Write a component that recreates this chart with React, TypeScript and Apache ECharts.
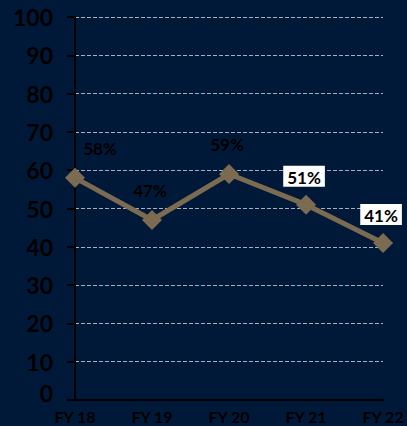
import React, { useEffect, useRef } from "react";
import * as echarts from "echarts";

const categories = ["FY 18", "FY 19", "FY 20", "FY 21", "FY 22"];
const values = [58, 47, 59, 51, 41];
const boxedLabels = [false, false, false, true, true];

export default function App() {
  const ref = useRef<HTMLDivElement>(null);
  useEffect(() => {
    const chart = echarts.init(ref.current!, null, { renderer: "svg" });
    const font = "Lato, 'Open Sans', sans-serif";
    chart.setOption({
      animation: false,
      backgroundColor: "#011939",
      grid: { left: 75, right: 21, top: 17, bottom: 26, containLabel: false },
      xAxis: {
        type: "category",
        data: categories,
        boundaryGap: false,
        axisLine: { show: true, lineStyle: { color: "#000", width: 2 } },
        axisTick: { show: false },
        axisLabel: {
          color: "#000",
          fontWeight: "bold",
          fontSize: 16,
          fontFamily: font,
          margin: 8,
        },
        splitLine: { show: false },
      },
      yAxis: {
        type: "value",
        min: 0,
        max: 100,
        interval: 10,
        axisLine: { show: true, lineStyle: { color: "#000", width: 2 } },
        axisTick: { show: true, length: 8, lineStyle: { color: "#000", width: 2 } },
        axisLabel: {
          color: "#000",
          fontWeight: "bold",
          fontSize: 23,
          fontFamily: font,
          margin: 22,
          formatter: (v: number) => (v === 0 ? "{z|0}" : String(v)),
          rich: {
            z: {
              color: "#000",
              fontWeight: "bold",
              fontSize: 23,
              fontFamily: font,
              padding: [0, 0, 14, 0],
            },
          },
        },
        splitLine: { show: true, lineStyle: { color: "#a8b0bd", type: "dashed", width: 1 } },
      },
      series: [
        {
          type: "line",
          data: values.map((v, i) => ({
            value: v,
            label: boxedLabels[i]
              ? {
                  backgroundColor: "#fff",
                  padding: [3, 4, 1, 4],
                  offset: [-2, 2],
                }
              : i === 0
              ? { offset: [25, -1] }
              : { offset: [-2, -1] },
          })),
          symbol: "diamond",
          symbolSize: 20,
          lineStyle: { color: "#7b6b50", width: 5 },
          itemStyle: { color: "#7b6b50" },
          label: {
            show: true,
            position: "top",
            distance: 10,
            formatter: (p: any) => p.value + "%",
            color: "#000",
            fontWeight: "bold",
            fontSize: 17,
            fontFamily: font,
          },
        },
      ],
    });
    return () => chart.dispose();
  }, []);
  return <div ref={ref} style={{ width: 407, height: 426, position: "absolute", left: 0, top: 0 }} />;
}
